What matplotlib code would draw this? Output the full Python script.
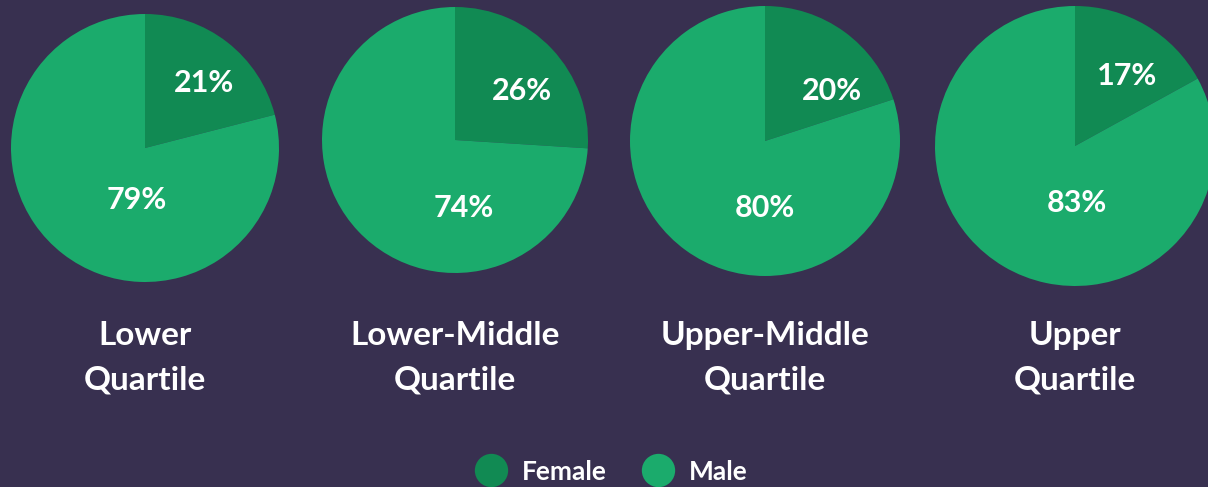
import matplotlib
matplotlib.use("Agg")
import matplotlib.pyplot as plt

# Data
quartiles = ["Lower\nQuartile", "Lower-Middle\nQuartile", "Upper-Middle\nQuartile", "Upper\nQuartile"]
female = [21, 26, 20, 17]
male = [79, 74, 80, 83]
series_names = ["Female", "Male"]

# Styling
bg = "#383050"
female_color = "#118a53"
male_color = "#1bab6c"
W, H = 1208, 487

plt.rcParams['font.family'] = ['Lato', 'DejaVu Sans']

# pie centres / radii in pixels
centers = [(145, 148), (455, 140), (765, 141), (1075, 146)]
radii = [134, 133, 135, 140]
# label offsets from centre (pixels, y down)
female_off = [(59, -65), (67, -49), (67, -50), (52, -70)]
male_off = [(-8, 52), (9, 68), (0, 67), (2, 57)]

fig = plt.figure(figsize=(W / 100, H / 100), dpi=100)
fig.patch.set_facecolor(bg)

for i in range(4):
    cx, cy = centers[i]
    R = radii[i]
    ax = fig.add_axes([(cx - R) / W, (H - cy - R) / H, 2 * R / W, 2 * R / H])
    ax.set_facecolor(bg)
    ax.pie([female[i], male[i]], colors=[female_color, male_color],
           startangle=90, counterclock=False, radius=1,
           wedgeprops=dict(linewidth=0))
    ax.set_xlim(-1, 1)
    ax.set_ylim(-1, 1)
    ax.set_aspect('equal')
    ax.axis('off')

    fx, fy = female_off[i]
    mx, my = male_off[i]
    ax.text(fx / R, -fy / R, f"{female[i]}%", color="white", fontsize=22,
            fontweight="bold", ha="center", va="center")
    ax.text(mx / R, -my / R, f"{male[i]}%", color="white", fontsize=22,
            fontweight="bold", ha="center", va="center")

    # category label, two lines
    line1, line2 = quartiles[i].split("\n")
    fig.text(cx / W, 1 - 345 / H, line1, color="white", fontsize=24,
             fontweight="bold", ha="center", va="baseline")
    fig.text(cx / W, 1 - 390 / H, line2, color="white", fontsize=24,
             fontweight="bold", ha="center", va="baseline")

# legend drawn by hand in pixel coordinates
lax = fig.add_axes([0, 0, 1, 1], zorder=-1)
lax.set_xlim(0, W)
lax.set_ylim(H, 0)
lax.axis('off')
leg_x = [491, 658]
for x, name, c in zip(leg_x, series_names, [female_color, male_color]):
    lax.plot([x], [470], marker='o', markersize=24, color=c, markeredgewidth=0)
    lax.text(x + 31, 480, name, color="white", fontsize=19, fontweight="bold",
             ha="left", va="baseline")

fig.savefig("out.png", dpi=100, facecolor=bg)
